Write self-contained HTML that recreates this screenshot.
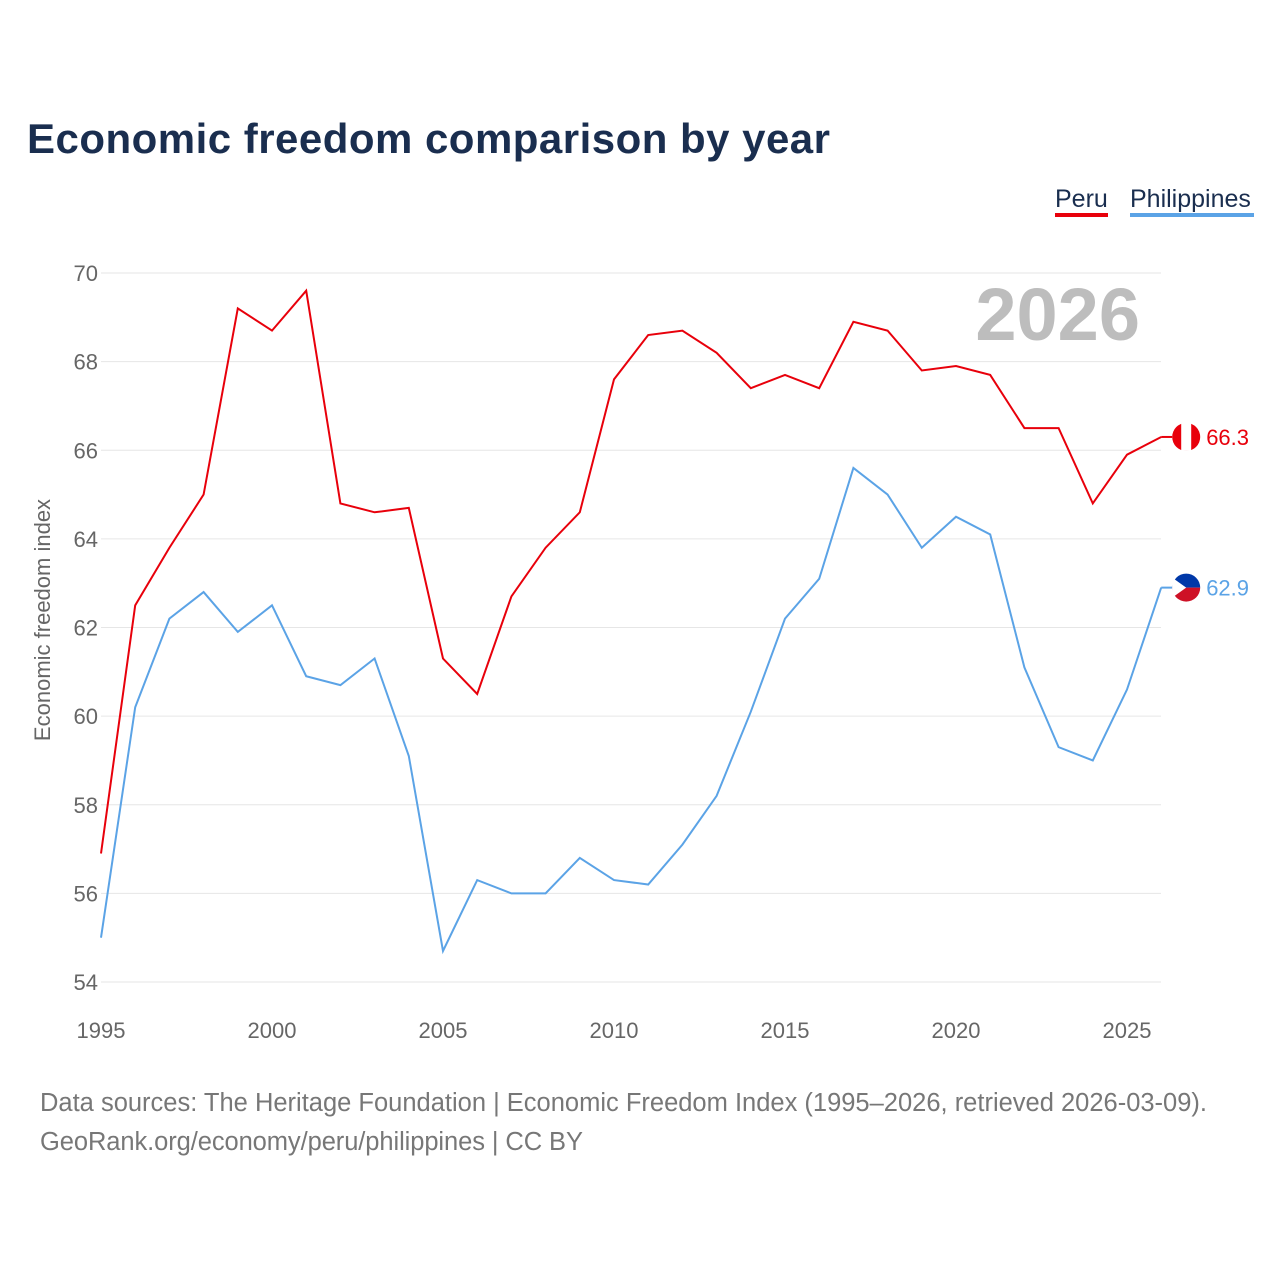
<!DOCTYPE html>
<html><head><meta charset="utf-8"><style>
body{margin:0;background:#fff;font-family:"Liberation Sans",sans-serif}
svg text{font-family:"Liberation Sans",sans-serif}
</style></head><body>
<svg id="c" width="1280" height="1280" viewBox="0 0 1280 1280">
<text x="27" y="153" font-size="42" font-weight="bold" fill="#1a2e4f" textLength="803">Economic freedom comparison by year</text>
<g>
<text x="1055" y="207" font-size="25" fill="#1a2e4f">Peru</text>
<rect x="1055" y="213" width="53" height="4" fill="#e8000b"/>
<text x="1130" y="207" font-size="25" fill="#1a2e4f">Philippines</text>
<rect x="1130" y="213" width="124" height="4" fill="#5ba3e6"/>
</g>
<text x="1140" y="340" font-size="74" font-weight="bold" fill="#bdbdbd" text-anchor="end">2026</text>
<text transform="translate(50,620) rotate(-90)" font-size="22" fill="#666" text-anchor="middle">Economic freedom index</text>
<g id="grid"></g><g id="lines"></g>
<text x="40" y="1111" font-size="25.5" fill="#777" textLength="1167">Data sources: The Heritage Foundation | Economic Freedom Index (1995–2026, retrieved 2026-03-09).</text>
<text x="40" y="1150" font-size="25.5" fill="#777" textLength="543">GeoRank.org/economy/peru/philippines | CC BY</text>
</svg>
<script>
const years=[1995,1996,1997,1998,1999,2000,2001,2002,2003,2004,2005,2006,2007,2008,2009,2010,2011,2012,2013,2014,2015,2016,2017,2018,2019,2020,2021,2022,2023,2024,2025,2026];
const peru=[56.9,62.5,63.8,65.0,69.2,68.7,69.6,64.8,64.6,64.7,61.3,60.5,62.7,63.8,64.6,67.6,68.6,68.7,68.2,67.4,67.7,67.4,68.9,68.7,67.8,67.9,67.7,66.5,66.5,64.8,65.9,66.3];
const philippines=[55.0,60.2,62.2,62.8,61.9,62.5,60.9,60.7,61.3,59.1,54.7,56.3,56.0,56.0,56.8,56.3,56.2,57.1,58.2,60.1,62.2,63.1,65.6,65.0,63.8,64.5,64.1,61.1,59.3,59.0,60.6,62.9];
const yTicks=[54,56,58,60,62,64,66,68,70];
const xTicks=[1995,2000,2005,2010,2015,2020,2025];
const NS="http://www.w3.org/2000/svg";
const x=v=>101+(v-1995)*(1026/30);
const y=v=>273+(70-v)*(709/16);
function mk(t,a,p){const e=document.createElementNS(NS,t);for(const k in a)e.setAttribute(k,a[k]);p.appendChild(e);return e;}
const g=document.getElementById('grid'),L=document.getElementById('lines');
yTicks.forEach(t=>{
 const l=mk('line',{x1:101,x2:1161,y1:y(t),y2:y(t),stroke:'#e6e6e6','stroke-width':1},g);
 
 
 const tx=mk('text',{x:98,y:y(t)+8,'font-size':22,fill:'#666','text-anchor':'end'},g);
 tx.textContent=t;
 
 
});
xTicks.forEach(t=>{
 const tx=mk('text',{x:x(t),y:1038,'font-size':22,fill:'#666','text-anchor':'middle'},g);
 tx.textContent=t;
 
 
});
function series(vals,col,name){
 const p=mk('polyline',{points:vals.map((v,i)=>x(years[i])+','+y(v)).join(' '),fill:'none',stroke:col,'stroke-width':2},L);
 
 
 const lv=vals[vals.length-1],lx=x(years[years.length-1]);
 const cl=mk('line',{x1:lx,x2:lx+11,y1:y(lv),y2:y(lv),stroke:col,'stroke-width':2},L);
 
 
 const t=mk('text',{x:lx+45,y:y(lv)+8,'font-size':22,fill:col},L);
 t.textContent=lv.toFixed(1);
 
 
 return [lx+25,y(lv)];
}
const [pcx,pcy]=series(peru,'#e8000b','peru');
const pc=mk('circle',{cx:pcx,cy:pcy,r:14,fill:'#e8000b'},L);


const pf=mk('rect',{x:pcx-5,y:pcy-14,width:10,height:28,fill:'#fff'},L);


const [hcx,hcy]=series(philippines,'#5ba3e6','philippines');
const hb=mk('path',{d:`M${hcx-14},${hcy} A14,14 0 0 1 ${hcx+14},${hcy} Z`,fill:'#0038a8'},L);


const hr=mk('path',{d:`M${hcx-14},${hcy} A14,14 0 0 0 ${hcx+14},${hcy} Z`,fill:'#ce1126'},L);


const ht=mk('path',{d:`M${hcx-14},${hcy-10} L${hcx},${hcy} L${hcx-14},${hcy+10} Z`,fill:'#fff'},L);


</script>
</body></html>
